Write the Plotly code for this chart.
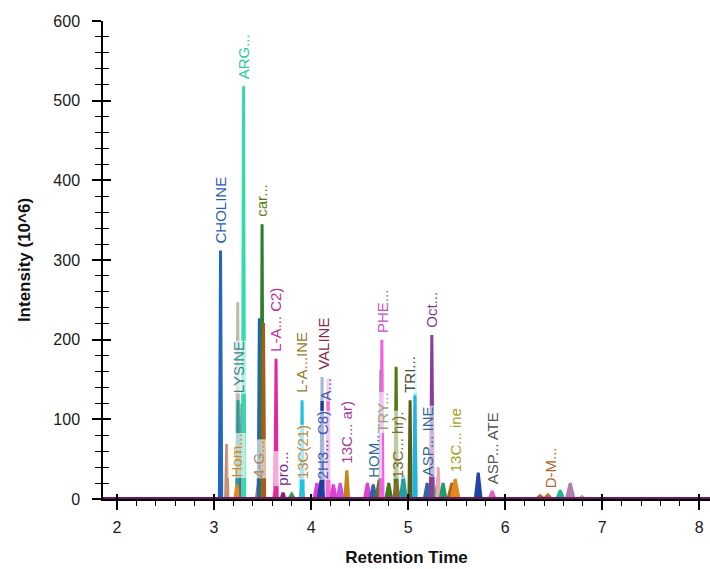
import plotly.graph_objects as go

# Chromatogram peaks: apex retention time (min), apex intensity (10^6), half width (min), colour
peak_rt = [3.067, 3.131, 3.244, 3.247, 3.235, 3.289, 3.304, 3.455, 3.467, 3.495, 3.510,
           3.630, 3.639, 3.711, 3.800, 3.905, 3.907, 4.060, 4.100, 4.113, 4.175, 4.230,
           4.300, 4.368, 4.580, 4.640, 4.700, 4.720, 4.729, 4.800, 4.876, 4.880, 4.950,
           5.020, 5.072, 5.070, 5.196, 5.244, 5.300, 5.309, 5.360, 5.450, 5.485, 5.722,
           5.866, 6.360, 6.440, 6.567, 6.670, 6.790]
peak_h = [312, 69, 247, 124, 18, 120, 518, 18, 227, 345, 221,
          12, 176, 8, 6, 16, 124, 20, 22, 153, 151, 18,
          20, 36, 20, 18, 24, 162, 200, 20, 166, 22, 30,
          124, 170, 130, 20, 206, 18, 40, 20, 20, 25, 33,
          10, 4, 5, 11, 20, 3]
peak_w = [0.012, 0.012, 0.012, 0.012, 0.02, 0.012, 0.012, 0.02, 0.012, 0.012, 0.012,
          0.02, 0.012, 0.02, 0.03, 0.02, 0.012, 0.03, 0.03, 0.012, 0.012, 0.03,
          0.03, 0.02, 0.03, 0.03, 0.03, 0.012, 0.012, 0.03, 0.012, 0.03, 0.03,
          0.012, 0.012, 0.012, 0.03, 0.015, 0.03, 0.015, 0.03, 0.04, 0.04, 0.03,
          0.03, 0.04, 0.04, 0.035, 0.04, 0.03]
peak_color = ["#2166c4", "#c9906e", "#c2b8ac", "#2e9a96", "#e08a1c", "#8b3f9f", "#33dba9",
              "#b88a6a", "#2262bf", "#2d7f2d", "#a65b1f", "#d08a70", "#e3289f", "#8a1f7a",
              "#30a040", "#e09a30", "#1fc2e0", "#e83ad6", "#2b3fb0", "#1b3f9c", "#f070d8",
              "#e040d0", "#d050e0", "#c98316", "#e040d0", "#3060b0", "#7a6a10", "#3aa03a",
              "#f060e0", "#3a7a20", "#4f7a14", "#8a6a2a", "#20a0a0", "#5a5a10", "#a8e6f6",
              "#20b4e0", "#2a6aa0", "#8a3d9c", "#3aa040", "#e8a8b8", "#20a060", "#b06020",
              "#e08a20", "#2243a6", "#e060c0", "#b8642a", "#c0702a", "#20b890", "#b080b0",
              "#d0a080"]

# Peak annotations: text, retention time, anchor intensity, colour
label_text = ["CHOLINE", "ARG...", "car...", "LYSINE", "Hom...", "4-G...", "L-A... C2)",
              "pro...", "13C(21)", "L-A...INE", "2H3... C8)", "A...", "VALINE", "13C... ar)",
              "HOM...", "TRY...", "PHE...", "13C... hr).", "TRI...", "ASP... INE", "Oct...",
              "13C... ine", "ASP... ATE", "D-M..."]
label_rt = [3.067, 3.304, 3.495, 3.247, 3.235, 3.455, 3.639,
            3.711, 3.905, 3.907, 4.113, 4.150, 4.120, 4.368,
            4.640, 4.735, 4.729, 4.885, 5.020, 5.196, 5.244,
            5.485, 5.866, 6.470]
label_y = [312, 518, 345, 124, 18, 18, 176,
           8, 16, 124, 16, 115, 153, 36,
           18, 75, 200, 18, 124, 20, 206,
           25, 10, 5]
label_color = ["#2a5db0", "#2fc99a", "#5a7a10", "#2a8e8e", "#d98a1a", "#b08060", "#c0309a",
               "#7a2a8a", "#c08a40", "#9a7a2a", "#3a5ab8", "#3a5ab8", "#8a2a4a", "#a0409a",
               "#2a6a9a", "#90a880", "#c84cc8", "#7a6a30", "#505030", "#2a6a9a", "#7a3a8a",
               "#a8a020", "#555555", "#b0652a"]

x_range = [1.856, 8.11]
y_range = [0, 600]

fig = go.Figure()

for rt, h, w, c in zip(peak_rt, peak_h, peak_w, peak_color):
    fig.add_trace(go.Scatter(
        x=[rt - w, rt, rt + w], y=[0, h, 0], mode="lines",
        line=dict(color=c, width=3), fill="tozeroy", fillcolor=c,
        showlegend=False, hoverinfo="skip"))

# common baseline of all chromatograms
fig.add_trace(go.Scatter(x=x_range, y=[0, 0], mode="lines",
                         line=dict(color="#6a1a5e", width=4),
                         showlegend=False, hoverinfo="skip"))

# companion axes carrying the inner half of the tick marks
fig.add_trace(go.Scatter(x=[None], y=[None], xaxis="x2", yaxis="y2",
                         showlegend=False, hoverinfo="skip"))

for t, rt, y, c in zip(label_text, label_rt, label_y, label_color):
    fig.add_annotation(x=rt, y=y, text=t, textangle=-90, showarrow=False,
                       xanchor="center", yanchor="bottom", yshift=6,
                       font=dict(family="Liberation Sans, Arial, sans-serif", size=15, color=c),
                       bgcolor="rgba(255,255,255,0.62)", borderpad=0)

axis_font = dict(family="Liberation Sans, Arial, sans-serif", size=16, color="#1a1a1a")
title_font = dict(family="Liberation Sans, Arial, sans-serif", size=17, color="#111111")

fig.update_layout(
    width=710, height=569,
    margin=dict(l=103, r=0, t=21, b=70),
    paper_bgcolor="white", plot_bgcolor="white",
    xaxis=dict(range=x_range, tickmode="linear", tick0=2, dtick=1,
               ticks="outside", ticklen=9, tickwidth=1.5, tickcolor="black",
               minor=dict(ticks="outside", ticklen=5, dtick=0.2, tick0=2, tickcolor="black", tickwidth=1),
               showline=True, linecolor="black", linewidth=1.5,
               showgrid=False, zeroline=False, tickfont=axis_font, ticklabelstandoff=4,
               title=dict(text="<b>Retention Time</b>", font=title_font, standoff=16)),
    yaxis=dict(range=y_range, tickmode="linear", tick0=0, dtick=100,
               ticks="outside", ticklen=9, tickwidth=1.5, tickcolor="black",
               minor=dict(ticks="outside", ticklen=6, dtick=20, tick0=0, tickcolor="black", tickwidth=1),
               showline=True, linecolor="black", linewidth=1.5,
               showgrid=False, zeroline=False, tickfont=axis_font, ticklabelstandoff=9,
               title=dict(text="<b>Intensity (10^6)</b>", font=title_font, standoff=18)),
    xaxis2=dict(range=x_range, overlaying="x", anchor="y", side="bottom",
                tickmode="linear", tick0=2, dtick=1, ticks="inside", ticklen=5,
                tickwidth=1.5, tickcolor="black", showticklabels=False,
                showgrid=False, zeroline=False, showline=False),
    yaxis2=dict(range=y_range, overlaying="y", anchor="x", side="left",
                tickmode="linear", tick0=0, dtick=100, ticks="inside", ticklen=8,
                tickwidth=1.5, tickcolor="black", showticklabels=False,
                minor=dict(ticks="inside", ticklen=6, dtick=20, tick0=0, tickcolor="black", tickwidth=1),
                showgrid=False, zeroline=False, showline=False),
)

fig.write_html("out.html")
